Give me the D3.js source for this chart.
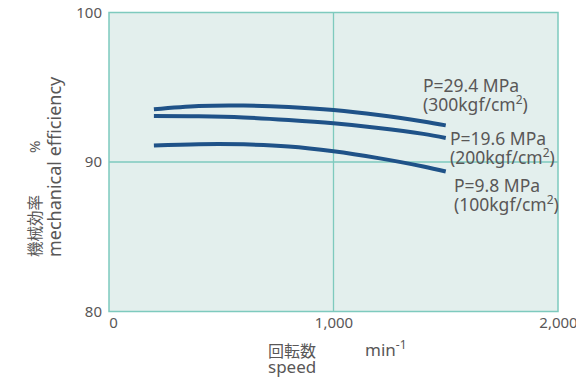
<!DOCTYPE html>
<html>
<head>
<meta charset="utf-8">
<script src="https://cdn.jsdelivr.net/npm/d3@7"></script>
<style>
  html, body { margin: 0; padding: 0; background: #ffffff; }
  svg { display: block; }
  text { font-family: "Noto Sans", "Noto Sans CJK JP", sans-serif; fill: #595757; }
</style>
</head>
<body>
<svg id="chart" width="576" height="379"></svg>
<script>
// Mechanical efficiency (%) against speed (min^-1) for three pressures
const speeds = [200, 400, 600, 800, 1000, 1200, 1400, 1500];
const eff294 = [93.53, 93.75, 93.78, 93.68, 93.48, 93.15, 92.71, 92.45];
const eff196 = [93.08, 93.06, 92.98, 92.81, 92.59, 92.28, 91.88, 91.61];
const eff98  = [91.10, 91.19, 91.18, 91.04, 90.72, 90.26, 89.70, 89.36];

const seriesLabels = [
  ["P=29.4 MPa", "(300kgf/cm", ")"],
  ["P=19.6 MPa", "(200kgf/cm", ")"],
  ["P=9.8 MPa",  "(100kgf/cm", ")"]
];

const xTicks = [0, 1000, 2000];
const yTicks = [80, 90, 100];

const svg = d3.select("#chart");
const plot = { left: 109, right: 558, top: 12.5, bottom: 311.5 };

const x = d3.scaleLinear().domain([0, 2000]).range([plot.left, plot.right]);
const y = d3.scaleLinear().domain([80, 100]).range([plot.bottom, plot.top]);

const gridColor = "#7ecabe";
const lineColor = "#1f5288";

// Plot background
svg.append("rect")
  .attr("x", plot.left).attr("y", plot.top)
  .attr("width", plot.right - plot.left).attr("height", plot.bottom - plot.top)
  .attr("fill", "#e3efed");

// Inner grid lines
svg.append("line")
  .attr("x1", x(1000)).attr("x2", x(1000))
  .attr("y1", plot.top).attr("y2", plot.bottom)
  .attr("stroke", gridColor).attr("stroke-width", 1.3);
svg.append("line")
  .attr("x1", plot.left).attr("x2", plot.right)
  .attr("y1", y(90)).attr("y2", y(90))
  .attr("stroke", gridColor).attr("stroke-width", 1.3);

// Frame
svg.append("rect")
  .attr("x", plot.left).attr("y", plot.top)
  .attr("width", plot.right - plot.left).attr("height", plot.bottom - plot.top)
  .attr("fill", "none").attr("stroke", gridColor).attr("stroke-width", 1.5);

// Y axis tick labels
const yAxis = d3.axisLeft(y).tickValues(yTicks).tickSize(0).tickPadding(7);
const gy = svg.append("g").attr("transform", `translate(${plot.left},0)`).call(yAxis);
gy.select(".domain").remove();
gy.selectAll("text").attr("font-size", 15).style("fill", "#595757")
  .style("font-family", '"Noto Sans", sans-serif');

// X axis tick labels
const xAxis = d3.axisBottom(x).tickValues(xTicks).tickSize(0).tickPadding(6)
  .tickFormat(d3.format(","));
const gx = svg.append("g").attr("transform", `translate(0,${plot.bottom})`).call(xAxis);
gx.select(".domain").remove();
gx.selectAll("text").attr("font-size", 15).style("fill", "#595757")
  .style("font-family", '"Noto Sans", sans-serif');
gx.selectAll(".tick").filter(d => d === 0).select("text").attr("dx", 4);

// Curves
const line = d3.line()
  .x((d, i) => x(speeds[i]))
  .y(d => y(d))
  .curve(d3.curveCatmullRom);

[eff294, eff196, eff98].forEach(s => {
  svg.append("path")
    .datum(s)
    .attr("d", line)
    .attr("fill", "none")
    .attr("stroke", lineColor)
    .attr("stroke-width", 4);
});

// Curve labels
const labelPos = [
  { x: 423, y: 92 },
  { x: 450, y: 145 },
  { x: 454, y: 192 }
];
seriesLabels.forEach((lab, i) => {
  const g = svg.append("g").attr("transform", `translate(${labelPos[i].x},${labelPos[i].y})`);
  g.append("text").attr("font-size", 17.5).text(lab[0]);
  const t2 = g.append("text").attr("y", 18.5).attr("font-size", 17.5);
  t2.append("tspan").text(lab[1]);
  t2.append("tspan").attr("dy", -7).attr("font-size", 12).text("2");
  t2.append("tspan").attr("dy", 7).text(lab[2]);
});

// X axis title
svg.append("text").attr("x", 268).attr("y", 357).attr("font-size", 16)
  .style("font-family", '"Noto Sans CJK JP", sans-serif').text("回転数");
svg.append("text").attr("x", 268).attr("y", 373).attr("font-size", 17).text("speed");
const unit = svg.append("text").attr("x", 365).attr("y", 356).attr("font-size", 17);
unit.append("tspan").text("min");
unit.append("tspan").attr("dy", -7).attr("font-size", 12).text("-1");

// Y axis title (rotated)
const yt = svg.append("g").attr("transform", "translate(0,257) rotate(-90)");
yt.append("text").attr("x", 0).attr("y", 41).attr("font-size", 15.5)
  .style("font-family", '"Noto Sans CJK JP", sans-serif').text("機械効率");
yt.append("text").attr("x", 104).attr("y", 40).attr("font-size", 15).text("%");
yt.append("text").attr("x", 0).attr("y", 61).attr("font-size", 18).text("mechanical efficiency");
</script>
</body>
</html>
